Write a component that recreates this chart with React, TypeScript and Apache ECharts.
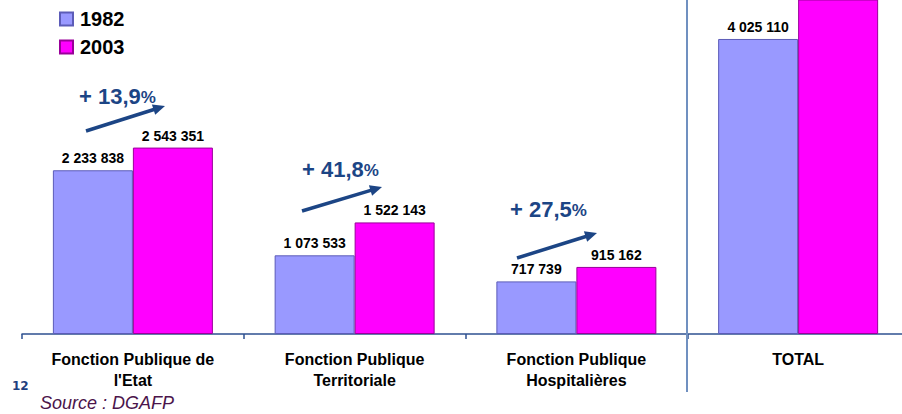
import React, { useEffect, useRef } from "react";
import * as echarts from "echarts";

const categories = [
  "Fonction Publique de\nl'Etat",
  "Fonction Publique\nTerritoriale",
  "Fonction Publique\nHospitalières",
  "TOTAL",
];
const values1982 = [2233838, 1073533, 717739, 4025110];
const values2003 = [2543351, 1522143, 915162, 4980656];
const seriesNames = ["1982", "2003"];

// annotation layout (pixels) for the growth arrows of the first three groups
const arrowLayout = [
  { tx: 79, ty: 96, x1: 86, y1: 131, x2: 165, y2: 106 },
  { tx: 302, ty: 169, x1: 302, y1: 211, x2: 382, y2: 187 },
  { tx: 510, ty: 209, x1: 517, y1: 258, x2: 597, y2: 233 },
];

const fmt = (v: number) => String(v).replace(/\B(?=(\d{3})+(?!\d))/g, " ");
const growth = (i: number) =>
  (((values2003[i] / values1982[i]) - 1) * 100).toFixed(1).replace(".", ",");

const BLUE = "#1c4585";

function arrow(a: { x1: number; y1: number; x2: number; y2: number }) {
  const dx = a.x2 - a.x1;
  const dy = a.y2 - a.y1;
  const len = Math.sqrt(dx * dx + dy * dy);
  const ux = dx / len;
  const uy = dy / len;
  const hl = 12;
  const hw = 5.5;
  const bx = a.x2 - ux * hl;
  const by = a.y2 - uy * hl;
  return [
    {
      type: "line",
      shape: { x1: a.x1, y1: a.y1, x2: bx + ux * 2, y2: by + uy * 2 },
      style: { stroke: BLUE, lineWidth: 3.5 },
    },
    {
      type: "polygon",
      shape: {
        points: [
          [a.x2, a.y2],
          [bx - uy * hw, by + ux * hw],
          [bx + uy * hw, by - ux * hw],
        ],
      },
      style: { fill: BLUE },
    },
  ];
}

export default function App() {
  const ref = useRef<HTMLDivElement>(null);
  useEffect(() => {
    if (!ref.current) return;
    const chart = echarts.init(ref.current, null, { renderer: "svg" });
    const font = "'Liberation Sans', Arial, sans-serif";
    const labelCfg = {
      show: true,
      position: "top",
      distance: 5,
      fontFamily: font,
      fontWeight: "bold",
      fontSize: 14,
      color: "#000",
      formatter: (p: any) => fmt(p.value),
    };
    chart.setOption({
      animation: false,
      textStyle: { fontFamily: font },
      grid: {
        left: 22,
        width: 887,
        top: 0,
        bottom: 80,
        containLabel: false,
        outerBoundsMode: "none",
      },
      legend: {
        orient: "vertical",
        left: 59,
        top: 9,
        padding: 0,
        itemWidth: 13,
        itemHeight: 13,
        itemGap: 8,
        icon: "rect",
        data: seriesNames,
        textStyle: { fontFamily: font, fontWeight: "bold", fontSize: 20, lineHeight: 20, color: "#000", padding: [0, 0, 0, 2] },
      },
      xAxis: {
        type: "category",
        data: categories,
        axisLine: { lineStyle: { color: "#2e5090", width: 1.5 } },
        axisTick: { show: true, length: 5, lineStyle: { color: "#2e5090", width: 1.5 } },
        axisLabel: {
          margin: 15,
          fontFamily: font,
          fontWeight: "bold",
          fontSize: 16,
          lineHeight: 21,
          color: "#000",
          interval: 0,
        },
      },
      yAxis: { type: "value", min: 0, max: 4557000, show: false, splitLine: { show: false } },
      series: [
        {
          name: seriesNames[0],
          type: "bar",
          barWidth: 80,
          barGap: "0%",
          data: values1982,
          itemStyle: { color: "#9999ff", borderColor: "#5c5cb8", borderWidth: 1 },
          label: labelCfg,
        },
        {
          name: seriesNames[1],
          type: "bar",
          barWidth: 80,
          barGap: "0%",
          clip: true,
          data: values2003.map((v, i) =>
            i === 3 ? { value: v, label: { show: false } } : v
          ),
          itemStyle: { color: "#ff00ff", borderColor: "#990099", borderWidth: 1 },
          label: labelCfg,
        },
      ],
    });

    const c2 = chart.convertToPixel({ xAxisIndex: 0 }, 2) as number;
    const c3 = chart.convertToPixel({ xAxisIndex: 0 }, 3) as number;
    const sepX = Math.round((c2 + c3) / 2);

    const graphics: any[] = [
      {
        type: "line",
        shape: { x1: sepX, y1: 0, x2: sepX, y2: 392 },
        style: { stroke: "#7090c0", lineWidth: 2 },
        z: 10,
      },
      {
        type: "text",
        left: 12,
        top: 380,
        style: {
          text: "12",
          fontFamily: "'DejaVu Sans', Verdana, sans-serif",
          fontWeight: "bold",
          fontSize: 12,
          fill: "#1f3f7f",
        },
      },
      {
        type: "text",
        left: 40,
        top: 394,
        style: {
          text: "Source : DGAFP",
          fontFamily: font,
          fontStyle: "italic",
          fontSize: 18,
          fill: "#4b154b",
        },
      },
    ];
    arrowLayout.forEach((a, i) => {
      graphics.push({
        type: "text",
        x: a.tx,
        y: a.ty,
        style: {
          text: "{b|+ " + growth(i) + "}{p|%}",
          verticalAlign: "middle",
          rich: {
            b: { fontFamily: font, fontWeight: "bold", fontSize: 22, fill: BLUE, color: BLUE },
            p: { fontFamily: font, fontWeight: "bold", fontSize: 17, fill: BLUE, color: BLUE, padding: [3, 0, 0, 0] },
          },
        },
      });
      arrow(a).forEach((g) => graphics.push(g));
    });
    chart.setOption({ graphic: graphics });

    return () => chart.dispose();
  }, []);
  return (
    <div
      ref={ref}
      style={{ position: "absolute", left: 0, top: 0, width: 902, height: 414, background: "#fff" }}
    />
  );
}
